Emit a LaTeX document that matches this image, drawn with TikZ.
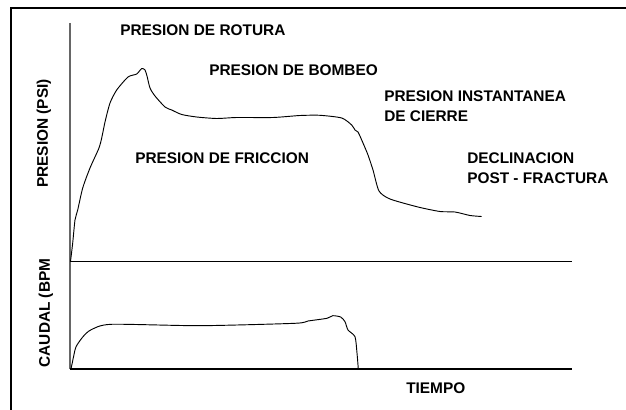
\documentclass[tikz,border=0pt]{standalone}
\usepackage{fontspec}
\setmainfont{Liberation Sans}
\tikzset{
  lbl/.style={anchor=west,inner sep=0pt,align=left,font=\fontsize{11.55pt}{15pt}\selectfont\bfseries},
  vlbl/.style={rotate=90,inner sep=0pt,font=\fontsize{11.55pt}{15pt}\selectfont\bfseries},
  curve/.style={line width=0.7pt,smooth,tension=0.4},
}
\begin{document}
\begin{tikzpicture}[x=0.75pt,y=-0.75pt]
\useasboundingbox (0,0) rectangle (626,410);
\coordinate (top) at (70,23);
\coordinate (org) at (70,369);
\coordinate (mid) at (70,261.5);
\coordinate (midend) at (572,261.5);
\coordinate (orgend) at (572,369);
% frame
\draw[line width=1.5pt] (11,410) -- (11,8.5) -- (626,8.5);
% axes
\draw[line width=1pt,black!60] (top) -- (org);
\draw[line width=0.8pt] (mid) -- (midend);
\draw[line width=0.8pt] (org) -- (orgend);
% presion
\draw[curve] plot coordinates {(70.5,261.5) (72.7,243) (75,220) (77.7,210) (82.7,188) (90,168) (99,148)
  (101.7,138) (105,122) (110,103) (116.7,90) (128,77) (136.7,74) (141.7,68.5) (145,70) (147,76)
  (150,88) (155,96) (165,107) (171.7,110) (181.7,114.5) (196.7,117) (216.7,118.5) (236.7,117.5)
  (273,117.5) (300,115.5) (320,115.3) (341.7,118) (351.7,125) (355,130) (358,132) (363,143)
  (368,155) (373,170) (379,191) (390,199) (418,207) (440,211.5) (455,212) (470,215.5) (481.7,216.5)};
% caudal
\draw[curve] plot coordinates {(71,369) (75,350) (77,345) (83,336.7) (90.7,330) (111,324.3) (200,325.7)
  (295,323.3) (308,321) (327,318.3) (332.7,315.7) (340.7,317) (345,321.7) (348,330) (355,336.7)
  (357,353) (358.3,369)};
% labels
\node[lbl] (rotura) at (120,30) {PRESION DE ROTURA};
\node[lbl] (bombeo) at (209,70) {PRESION DE BOMBEO};
\node[lbl] (cierre) at (384,106.5) {PRESION INSTANTANEA\\DE CIERRE};
\node[lbl] (friccion) at (135,158) {PRESION DE FRICCION};
\node[lbl] (declin) at (467,168) {DECLINACION\\POST - FRACTURA};
\node[lbl] (tiempo) at (406,388) {TIEMPO};
\node[vlbl] (presion) at (44,133.5) {PRESION (PSI)};
\node[vlbl] (caudal) at (46,313) {CAUDAL (BPM};
\end{tikzpicture}
\end{document}
